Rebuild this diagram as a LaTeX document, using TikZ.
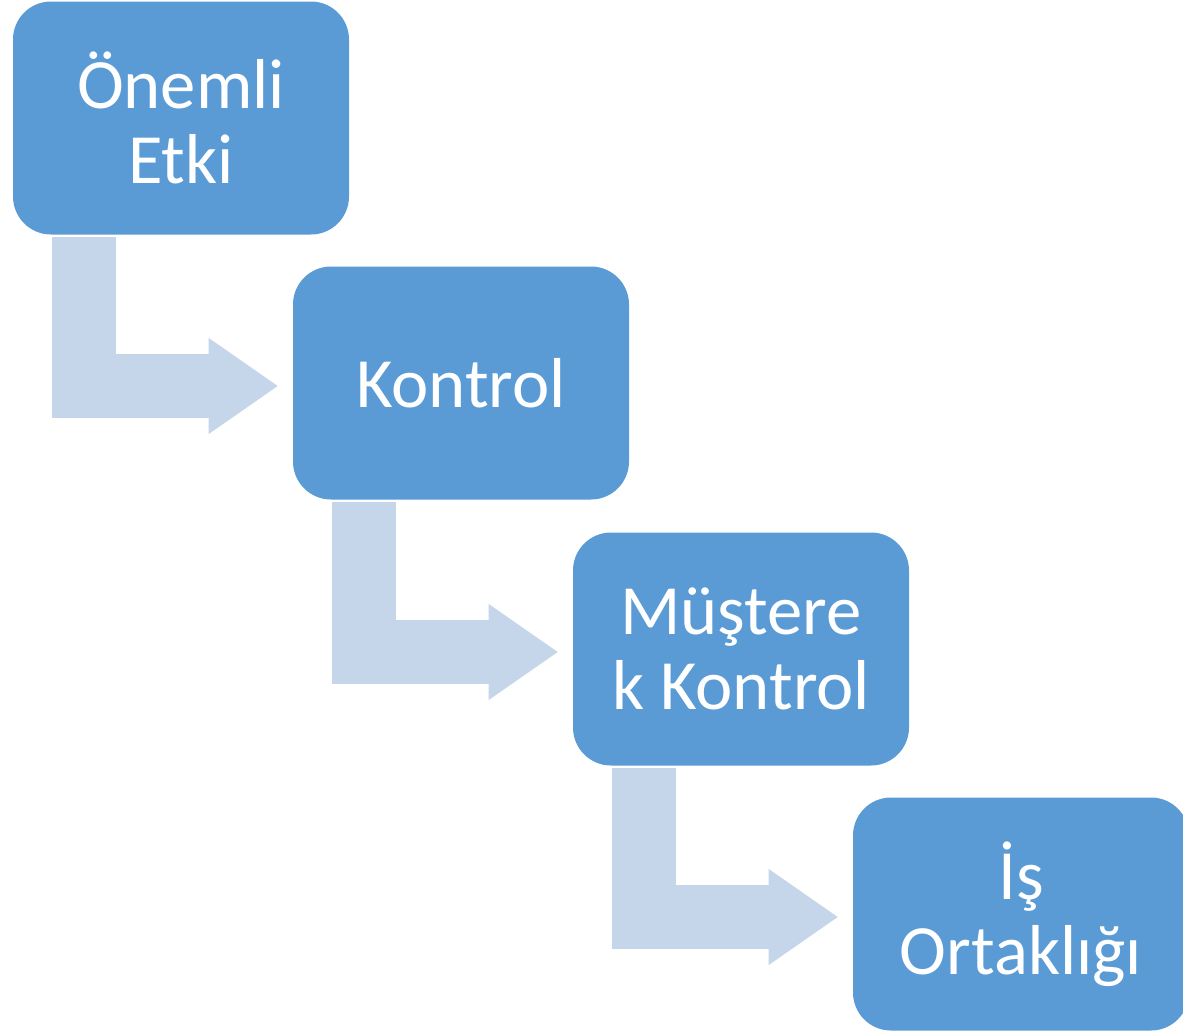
\documentclass[tikz,border=0pt]{standalone}
\usepackage{fontspec}
\setmainfont{Carlito}
\usetikzlibrary{arrows.meta, calc}

\definecolor{boxblue}{HTML}{5B9BD5}
\definecolor{arrowblue}{HTML}{C5D5EA}

\tikzset{
  stepbox/.style={rectangle, rounded corners=28.5pt, fill=boxblue, text=white,
    minimum width=252pt, minimum height=174.75pt, inner sep=0pt, align=center,
    font=\fontsize{53}{56}\selectfont},
  bentarrow/.style={draw=arrowblue, line width=48pt, line join=miter,
    -{Triangle[width=72pt, length=51.75pt, line width=0pt, fill=arrowblue]}}
}

\begin{document}
\begin{tikzpicture}[x=0.75pt, y=-0.75pt]
  \useasboundingbox (0,0) rectangle (1183,1033);
  % the four steps
  \node[stepbox] (etki) at (181,118) {Önemli\\Etki};
  \node[stepbox] (kontrol) at (461,383) {Kontrol};
  \node[stepbox] (mustrk) at (741,649) {Müştere\\k Kontrol};
  \node[stepbox] (ortak) at (1021,914) {İş\\Ortaklığı};
  % bent arrows between them
  \draw[bentarrow] ($(etki.south west)+(71,2)$) |- ($(kontrol.west)+(-15,3)$);
  \draw[bentarrow] ($(kontrol.south west)+(71,2)$) |- ($(mustrk.west)+(-15,3)$);
  \draw[bentarrow] ($(mustrk.south west)+(71,2)$) |- ($(ortak.west)+(-15,3)$);
\end{tikzpicture}
\end{document}
